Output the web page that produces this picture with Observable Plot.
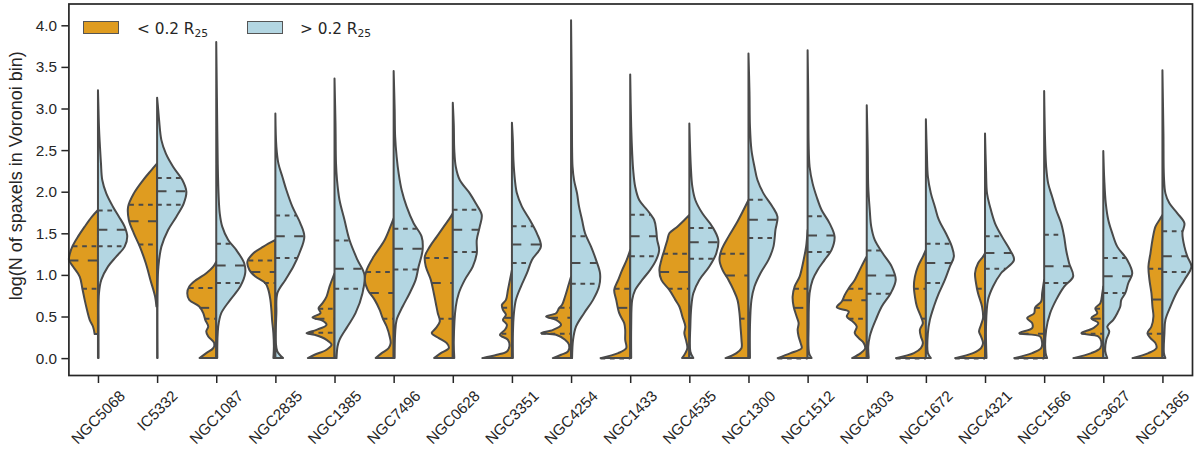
<!DOCTYPE html>
<html><head><meta charset="utf-8">
<script src="https://cdn.jsdelivr.net/npm/d3@7"></script>
<script src="https://cdn.jsdelivr.net/npm/@observablehq/plot@0.6"></script>
<style>
body{margin:0;background:#fff;font-family:"Liberation Sans",Arial,sans-serif;}
#wrap{position:relative;width:1200px;height:456px;overflow:hidden;}
.patch{position:absolute;width:34px;height:11px;border:1px solid #555;}
.ltxt{position:absolute;font-family:"DejaVu Sans",sans-serif;font-size:15.3px;color:#262626;line-height:18px;white-space:nowrap;}
.ltxt sub{font-size:10.7px;vertical-align:-3px;line-height:0;}
</style></head><body><div id="wrap"></div>
<script>
const galaxies = ["NGC5068","IC5332","NGC1087","NGC2835","NGC1385","NGC7496","NGC0628","NGC3351","NGC4254","NGC1433","NGC4535","NGC1300","NGC1512","NGC4303","NGC1672","NGC4321","NGC1566","NGC3627","NGC1365"];
const yTicks = [0,0.5,1,1.5,2,2.5,3,3.5,4];
const yLabel = "log(N of spaxels in Voronoi bin)";
const innerLabel = "< 0.2 R", outerLabel = "> 0.2 R", labelSub = "25";

// density profiles: [log N, density (peak ≈ 29.6)]
const innerDensity = [
 [[0.29,3.3],[0.38,5],[0.46,8.3],[0.58,11],[0.70,13.3],[0.84,15.7],[0.98,18.3],[1.10,25],[1.18,29],[1.26,28],[1.34,25.7],[1.46,20],[1.58,13.3],[1.70,6],[1.78,0]],
 [[0.62,0.7],[0.74,2],[0.94,6.7],[1.14,11.3],[1.34,17.3],[1.50,23.3],[1.66,28.3],[1.82,29],[1.98,23.3],[2.14,14],[2.26,5.7],[2.34,0]],
 [[0,16.7],[0.06,10],[0.12,3],[0.18,2],[0.26,8],[0.32,10],[0.38,8],[0.46,11],[0.54,13],[0.62,17],[0.70,27],[0.78,29],[0.86,27],[0.94,20],[1.02,10],[1.10,3],[1.16,0]],
 [[0,2],[0.14,1.5],[0.30,2],[0.46,3.3],[0.58,4],[0.70,5],[0.82,7],[0.90,10],[0.98,20],[1.06,26],[1.16,28],[1.26,22],[1.34,12],[1.42,0]],
 [[0,26.7],[0.04,20],[0.10,8],[0.16,3],[0.22,8],[0.28,20],[0.30,28],[0.34,18],[0.40,8],[0.45,12],[0.49,22],[0.54,14],[0.60,16],[0.66,12],[0.74,8],[0.86,5],[1.02,0]],
 [[0,18],[0.06,12],[0.12,5],[0.18,3],[0.26,4],[0.38,7],[0.48,11],[0.58,14],[0.70,19],[0.82,26],[0.94,29],[1.06,27],[1.22,20],[1.42,9],[1.62,2],[1.68,0]],
 [[0,18.7],[0.06,12],[0.12,4],[0.18,6],[0.24,14],[0.30,21],[0.36,17],[0.44,13],[0.54,15],[0.66,17],[0.78,19],[0.94,22],[1.10,27],[1.22,28],[1.34,23],[1.46,16],[1.58,9],[1.70,2],[1.74,0]],
 [[0,29.7],[0.04,15],[0.08,5],[0.14,2.5],[0.22,4],[0.28,12],[0.34,7],[0.40,5],[0.46,9],[0.52,6],[0.58,9],[0.64,10],[0.70,6],[0.82,4],[0.94,2],[1.06,0]],
 [[0,18.3],[0.04,10],[0.08,3],[0.16,2],[0.22,6],[0.28,15],[0.30,30],[0.34,18],[0.40,10],[0.46,15],[0.50,25],[0.54,15],[0.60,12],[0.64,9],[0.74,6],[0.86,3],[0.98,0]],
 [[0,29.7],[0.06,12],[0.12,4],[0.22,5],[0.34,5],[0.42,6],[0.54,11],[0.70,14],[0.82,16],[0.94,12],[1.06,8],[1.18,3.5],[1.30,0]],
 [[0,7.3],[0.06,4],[0.12,2],[0.20,3],[0.30,5],[0.38,4],[0.50,7],[0.62,10],[0.70,14],[0.82,20],[0.94,28],[1.06,30],[1.18,28],[1.30,25],[1.42,22],[1.50,20],[1.58,12],[1.66,5],[1.72,0]],
 [[0,23],[0.06,12],[0.12,7],[0.22,7],[0.38,8],[0.54,9],[0.70,11],[0.82,15],[0.94,20],[1.06,26],[1.18,29],[1.30,27],[1.46,20],[1.62,12],[1.78,5],[1.90,0]],
 [[0,30],[0.06,17],[0.12,6],[0.18,7],[0.26,9],[0.34,10],[0.42,9],[0.50,11],[0.62,14],[0.74,15],[0.86,13],[0.98,8],[1.18,4],[1.34,1.5],[1.54,0]],
 [[0,14.7],[0.06,6],[0.12,1.5],[0.18,3],[0.24,8],[0.30,12],[0.38,10],[0.44,14],[0.50,20],[0.56,18],[0.61,30],[0.68,25],[0.76,22],[0.84,18],[0.94,12],[1.06,7],[1.18,2],[1.22,0]],
 [[0,30],[0.06,12],[0.12,5],[0.18,3],[0.26,5],[0.34,6],[0.42,3],[0.50,5],[0.62,9],[0.74,11],[0.86,12],[0.98,11],[1.10,8],[1.22,3],[1.30,0]],
 [[0,30],[0.06,12],[0.12,4],[0.18,2],[0.26,4],[0.32,6],[0.40,4],[0.48,2],[0.62,3],[0.78,7],[0.90,9],[1.02,10],[1.14,7],[1.22,2],[1.26,0]],
 [[0,30],[0.06,12],[0.12,3],[0.18,2],[0.26,4],[0.30,25],[0.36,12],[0.42,12],[0.48,17],[0.54,10],[0.61,9],[0.68,3],[0.78,2],[0.94,0]],
 [[0,30],[0.06,12],[0.12,3],[0.20,2],[0.26,5],[0.30,22],[0.36,10],[0.42,5],[0.48,12],[0.54,6],[0.60,8],[0.66,3],[0.78,1],[0.86,0]],
 [[0,30],[0.06,14],[0.12,6],[0.18,7],[0.24,12],[0.30,15],[0.38,11],[0.50,9],[0.62,10],[0.78,11],[0.94,13],[1.10,14],[1.26,12],[1.42,10],[1.58,7],[1.66,3],[1.72,0]]
];
const outerDensity = [
 [[0,0.6],[0.4,0.6],[0.78,1],[0.94,3.3],[1.10,10],[1.22,18.3],[1.34,26.7],[1.46,29.3],[1.58,26.7],[1.70,21],[1.82,15],[1.98,8.3],[2.14,4.3],[2.34,3],[2.54,2],[2.78,1],[3.0,0.5],[3.22,0]],
 [[0,0.5],[0.86,0.5],[1.10,1.3],[1.34,4.3],[1.54,11],[1.70,19.3],[1.86,26.7],[2.0,29.3],[2.14,25.3],[2.30,16],[2.46,8.7],[2.62,4.3],[2.86,2],[3.0,1],[3.13,0]],
 [[0,1],[0.38,2],[0.54,5],[0.70,14],[0.86,24],[1.02,29],[1.14,28],[1.30,20],[1.42,12],[1.58,6],[1.74,3.5],[1.98,2.3],[2.34,1.5],[2.8,1],[3.3,0.5],[3.8,0]],
 [[0,7.7],[0.08,2],[0.18,0.5],[0.54,1],[0.78,2],[0.94,10],[1.10,18],[1.26,24],[1.46,29],[1.62,25],[1.82,17],[2.02,11],[2.18,7],[2.34,3],[2.54,1],[2.94,0]],
 [[0,2],[0.14,3],[0.22,5],[0.38,13],[0.54,21],[0.78,28],[1.0,30],[1.18,23],[1.42,15],[1.66,10],[1.90,5],[2.14,2.5],[2.34,1.5],[2.8,1],[3.36,0]],
 [[0,1],[0.3,1.5],[0.46,3],[0.62,9],[0.78,16],[0.94,22],[1.10,25],[1.30,29],[1.46,28],[1.62,20],[1.82,13],[2.02,8],[2.22,5],[2.42,3],[2.66,1.5],[3.0,1],[3.45,0]],
 [[0,1.5],[0.2,1],[0.62,3],[0.78,6],[0.94,12],[1.10,20],[1.26,24],[1.42,24],[1.58,27],[1.72,29],[1.86,23],[1.98,17],[2.14,7],[2.30,3],[2.50,1.5],[2.8,1],[3.07,0]],
 [[0,1],[0.3,1],[0.54,2],[0.70,4],[0.86,9],[1.02,15],[1.18,20],[1.34,29],[1.50,25],[1.66,18],[1.82,10],[1.98,5],[2.14,3],[2.38,1.5],[2.6,1],[2.83,0]],
 [[0,1],[0.22,2],[0.38,5],[0.54,13],[0.70,22],[0.86,28],[1.02,29],[1.18,25],[1.34,20],[1.50,14],[1.66,11],[1.82,8],[1.98,6],[2.14,3],[2.30,1.5],[2.54,1],[3.2,0.7],[4.06,0]],
 [[0,1],[0.38,1],[0.70,2],[0.82,5],[0.94,12],[1.06,20],[1.18,26],[1.30,29],[1.42,27],[1.54,26],[1.66,24],[1.78,17],[1.90,9],[2.06,5],[2.26,3],[2.46,2],[2.78,1],[3.41,0]],
 [[0,4],[0.08,1],[0.38,1],[0.62,2],[0.78,4],[0.94,10],[1.10,20],[1.26,27],[1.42,29],[1.58,23],[1.74,13],[1.90,6],[2.06,3],[2.30,1.5],[2.82,0]],
 [[0,1.5],[0.38,1.5],[0.70,3],[0.86,6],[1.02,12],[1.18,20],[1.34,25],[1.54,27],[1.70,29],[1.82,24],[1.98,15],[2.14,9],[2.30,6],[2.50,3],[2.78,1.5],[3.2,1],[3.66,0]],
 [[0,4],[0.06,1.5],[0.38,1],[0.78,2],[0.94,5],[1.06,10],[1.18,17],[1.30,24],[1.46,27],[1.62,22],[1.78,14],[1.94,9],[2.10,5],[2.30,2],[2.58,1],[3.1,0.7],[3.70,0]],
 [[0,2],[0.14,1.5],[0.26,3],[0.34,5],[0.46,9],[0.62,15],[0.78,24],[0.94,29],[1.10,25],[1.26,16],[1.42,8],[1.58,4.5],[1.78,3],[2.06,1.5],[2.5,1],[3.04,0]],
 [[0,5],[0.06,2],[0.30,2],[0.46,4],[0.62,8],[0.78,13],[0.94,19],[1.10,24],[1.22,28],[1.34,26],[1.50,20],[1.66,13],[1.82,9],[1.98,5],[2.18,2],[2.46,1],[2.87,0]],
 [[0,1.5],[0.38,1],[0.70,3],[0.86,8],[1.02,16],[1.18,29],[1.30,25],[1.46,17],[1.62,10],[1.82,5],[1.98,2],[2.26,1],[2.70,0]],
 [[0,3],[0.06,1.5],[0.34,2],[0.54,6],[0.70,12],[0.86,20],[0.98,29],[1.14,25],[1.30,22],[1.46,20],[1.62,17],[1.78,12],[1.94,8],[2.10,4],[2.30,2],[2.58,1],[3.21,0]],
 [[0,4],[0.08,2],[0.22,3],[0.32,6],[0.38,4],[0.46,10],[0.54,14],[0.62,17],[0.70,18],[0.78,22],[0.90,25],[1.02,29],[1.18,24],[1.34,14],[1.50,9],[1.66,5],[1.86,2.5],[2.14,1],[2.49,0]],
 [[0,3],[0.06,1.5],[0.30,2],[0.46,3],[0.62,8],[0.78,14],[0.94,22],[1.10,29],[1.22,25],[1.34,22],[1.50,20],[1.62,22],[1.74,15],[1.86,7],[1.98,3],[2.18,1.5],[2.7,1],[3.46,0]]
];
// [q25, median, q75]
const innerQuartiles = [[0.84,1.18,1.35],[1.37,1.65,1.85],[0.48,0.61,0.85],[0.91,1.04,1.18],[0.31,0.48,0.60],[0.48,0.79,1.04],[0.48,0.91,1.21],[0.30,0.49,0.61],[0.30,0.49,0.61],[0,0.61,0.84],[0.84,1.04,1.26],[0.48,1.00,1.26],[0,0.61,0.84],[0.48,0.70,0.84],[0,0.48,0.84],[0,0.48,0.84],[0,0.30,0.61],[0.30,0.48,0.60],[0.30,0.71,1.08]];
const outerQuartiles = [[1.35,1.55,1.78],[1.85,2.01,2.17],[0.91,1.12,1.38],[1.21,1.47,1.72],[0.84,1.08,1.42],[1.07,1.32,1.56],[1.28,1.55,1.79],[1.15,1.37,1.59],[0.90,1.15,1.47],[1.23,1.47,1.73],[1.20,1.40,1.57],[1.45,1.67,1.91],[1.28,1.48,1.71],[0.78,1.00,1.30],[0.91,1.15,1.38],[1.08,1.27,1.47],[0.91,1.11,1.49],[0.79,0.99,1.21],[1.04,1.23,1.53]];

const ORANGE = "#df9c20", BLUE = "#b3d6e2", EDGE = "#4a4a4a", INK = "#262626";
const PEAK = 29.6, HALF = 0.5;

function widthAt(prof, q){
  if (q <= prof[0][0]) return prof[0][1];
  for (let j=0;j<prof.length-1;j++){
    const [a,wa]=prof[j],[b,wb]=prof[j+1];
    if (q>=a && q<=b) return wa + (wb-wa)*(q-a)/(b-a);
  }
  return 0;
}
function halfRows(list, s){
  const rows=[];
  list.forEach((prof,i)=>prof.forEach(([v,d])=>rows.push({g:i,v,c:i,e:i+s*HALF*d/PEAK})));
  return rows;
}
function quartRows(list, dens, s){
  const rows=[];
  list.forEach((qs,i)=>qs.forEach((q,k)=>{
    const w = HALF*widthAt(dens[i],q)/PEAK;
    rows.push({g:i,k,v:q,x1: s<0 ? i-w : i, x2: s<0 ? i : i+w});
  }));
  return rows;
}
const inRows = halfRows(innerDensity,-1), outRows = halfRows(outerDensity,1);
const qRows = quartRows(innerQuartiles,innerDensity,-1).concat(quartRows(outerQuartiles,outerDensity,1));

const H=456, MB=81, MT=3.5, ML=68.4, MR=8;
const FS=15.3;
const plot = Plot.plot({
  width:1200, height:H, marginLeft:ML, marginRight:MR, marginTop:MT, marginBottom:MB,
  x:{domain:[-0.5,18.5]},
  y:{domain:[-0.203,4.262]},
  style:{fontFamily:"Liberation Sans, Arial, sans-serif", fontSize:FS+"px", color:INK, background:"white", overflow:"visible"},
  marks:[
    Plot.areaX(inRows,{y:"v",x1:"c",x2:"e",z:"g",fill:ORANGE,stroke:EDGE,strokeWidth:2,strokeLinejoin:"round",curve:"catmull-rom"}),
    Plot.areaX(outRows,{y:"v",x1:"c",x2:"e",z:"g",fill:BLUE,stroke:EDGE,strokeWidth:2,strokeLinejoin:"round",curve:"catmull-rom"}),
    Plot.ruleY(qRows.filter(d=>d.k!==1),{y:"v",x1:"x1",x2:"x2",stroke:EDGE,strokeWidth:2,strokeDasharray:"4.7,4.7"}),
    Plot.ruleY(qRows.filter(d=>d.k===1),{y:"v",x1:"x1",x2:"x2",stroke:EDGE,strokeWidth:2,strokeDasharray:"9.4,9.4"}),
    Plot.frame({stroke:INK,strokeWidth:1.7}),
    Plot.axisY({ticks:yTicks,tickFormat:d3.format(".1f"),tickSize:7,tickPadding:5,label:null,fontSize:FS,strokeWidth:1.5}),
    Plot.axisX({ticks:d3.range(galaxies.length),tickFormat:i=>galaxies[i],tickRotate:-45,tickSize:8,tickPadding:3,label:null,fontSize:FS,strokeWidth:1.5}),
    Plot.text([yLabel],{text:d=>d,frameAnchor:"left",textAnchor:"middle",rotate:-90,dx:-52.4,dy:-14,fontSize:18,fill:INK})
  ]
});
const wrap=document.getElementById("wrap");
wrap.appendChild(plot);
// center rotated tick labels under their ticks (matplotlib-style ha=center)
const xs = plot.scale("x");
const sr = plot.getBoundingClientRect();
const labelTop = H - MB + 8 + 4;
plot.querySelectorAll('g[aria-label="x-axis tick label"] text').forEach((el,i)=>{
  const r = el.getBoundingClientRect();
  const dx = xs.apply(i) - ((r.left+r.right)/2 - sr.left);
  const dy = labelTop - (r.top - sr.top);
  el.setAttribute("transform",`translate(${dx.toFixed(2)},${dy.toFixed(2)}) `+(el.getAttribute("transform")||""));
});
// legend
function addPatch(x,color){const d=document.createElement("div");d.className="patch";d.style.left=x+"px";d.style.top="20.5px";d.style.background=color;wrap.appendChild(d);}
function addText(x,t){const d=document.createElement("div");d.className="ltxt";d.style.left=x+"px";d.style.top="19.7px";d.innerHTML=t.replace("<","&lt;").replace(">","&gt;")+"<sub>"+labelSub+"</sub>";wrap.appendChild(d);}
addPatch(83,ORANGE); addText(137,innerLabel);
addPatch(247,BLUE); addText(300,outerLabel);
</script></body></html>
